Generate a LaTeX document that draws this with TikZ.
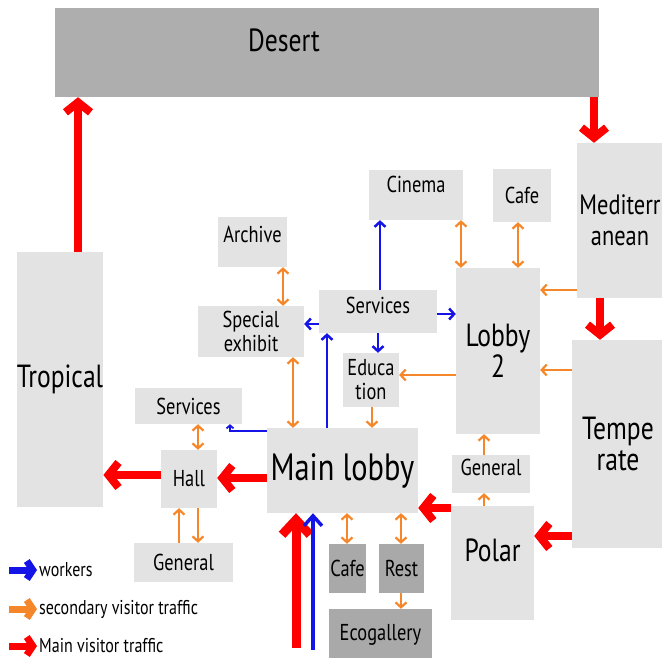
\documentclass[tikz,border=0pt]{standalone}
\usepackage{fontspec}
\setmainfont{PT Sans}[FakeStretch=0.8]
\usepackage{xcolor}
\definecolor{RoomGray}{HTML}{E3E3E3}
\definecolor{HotGray}{HTML}{AEAEAE}
\definecolor{AnnexGray}{HTML}{A9A9A9}
\definecolor{FlowRed}{HTML}{FF0000}
\definecolor{StaffBlue}{HTML}{1414E6}
\definecolor{SideOrange}{HTML}{F5872A}
\usepackage{tikz}
\usetikzlibrary{arrows.meta}

\begin{document}
\begin{tikzpicture}[x=1pt,y=-1pt,
room/.style={fill=RoomGray,inner sep=0pt,align=center,font=\fontsize{23}{24}\selectfont},
biome/.style={room,font=\fontsize{32}{31}\selectfont},
annex/.style={room,fill=AnnexGray},
mainflow/.style={draw=FlowRed,line width=8pt,-{Straight Barb[length=10pt,width=25pt]}},
staff/.style={draw=StaffBlue,line width=2.5pt,-{Straight Barb[length=5pt,width=11pt]}},
visit/.style={draw=SideOrange,line width=2.2pt,-{Straight Barb[length=5pt,width=11pt]}},
visit2/.style={visit,{Straight Barb[length=5pt,width=11pt]}-{Straight Barb[length=5pt,width=11pt]}},
key/.style={font=\fontsize{20}{20}\selectfont,anchor=west,inner sep=2pt},
keymark/.style={line width=7pt,-{Straight Barb[length=6pt,width=18pt]}}]
\useasboundingbox (0,0) rectangle (662,658);
% biomes
\node[biome,fill=HotGray,minimum width=544pt,minimum height=89pt,
  label={[font=\fontsize{32}{31}\selectfont,xshift=-43pt,yshift=12pt]center:Desert}] (desert) at (327,52.5) {};
\node[biome,minimum width=86pt,minimum height=255pt] (tropical) at (60,379.5) {Tropical};
\node[biome,minimum width=86pt,minimum height=155pt,font=\fontsize{28}{31}\selectfont] (med) at (620,220.5) {Mediterr\\anean};
\node[biome,minimum width=92pt,minimum height=208pt] (temperate) at (618,444) {Tempe\\rate};
\node[biome,minimum width=84pt,minimum height=166pt] (lobbyii) at (498,351) {Lobby\\2};
\node[biome,minimum width=83pt,minimum height=114pt,text depth=26pt] (polar) at (492.5,563) {Polar};
\node[room,minimum width=151pt,minimum height=85pt,font=\fontsize{38}{38}\selectfont] (mainlobby) at (342.5,470.5) {Main lobby};
% rooms
\node[room,minimum width=94pt,minimum height=50pt,text depth=22pt] (cinema) at (416,195) {Cinema};
\node[room,minimum width=58pt,minimum height=53pt] (cafetop) at (522,195.5) {Cafe};
\node[room,minimum width=69pt,minimum height=50pt,text depth=16pt] (archive) at (252.5,242) {Archive};
\node[room,minimum width=118pt,minimum height=43pt,text depth=13pt] (svcmid) at (378,311.5) {Services};
\node[room,minimum width=106pt,minimum height=51pt] (special) at (251,331.5) {Special\\exhibit};
\node[room,minimum width=56pt,minimum height=54pt] (education) at (371,380) {Educa\\tion};
\node[room,minimum width=107pt,minimum height=36pt] (svcleft) at (188.5,406) {Services};
\node[room,minimum width=56pt,minimum height=58pt] (hall) at (189,479) {Hall};
\node[room,minimum width=99pt,minimum height=39pt] (generall) at (183.5,562.5) {General};
\node[room,minimum width=78pt,minimum height=38pt,text depth=14pt] (generalr) at (491,474) {General};
\node[annex,minimum width=37pt,minimum height=49pt] (cafebot) at (347.5,568.5) {Cafe};
\node[annex,minimum width=45pt,minimum height=49pt] (rest) at (401.5,568.5) {Rest};
\node[annex,minimum width=103pt,minimum height=51pt] (eco) at (380.5,634.5) {Ecogallery};
% main visitor traffic
\coordinate (redin) at (296,648);
\draw[mainflow] (tropical.north -| 78,0) -- (desert.south -| 78,0);
\draw[mainflow] (desert.south -| 594,0) -- (med.north -| 594,0);
\draw[mainflow] (med.south -| 600,0) -- (temperate.north -| 600,0);
\draw[mainflow] (temperate.west |- 0,536) -- (polar.east |- 0,536);
\draw[mainflow] (polar.west |- 0,508) -- (mainlobby.east |- 0,508);
\draw[mainflow] (mainlobby.west |- 0,478) -- (hall.east |- 0,478);
\draw[mainflow] (hall.west |- 0,475) -- (tropical.east |- 0,475);
\draw[mainflow,line width=9pt,-{Straight Barb[length=15pt,width=28pt]}] (redin) -- (mainlobby.south -| 296,0);
% workers
\coordinate (bluein) at (313,650);
\draw[staff] (svcmid.north -| 380,0) -- (cinema.south -| 380,0);
\draw[staff] (svcmid.east |- 0,314) -- (lobbyii.west |- 0,314);
\draw[staff] (svcmid.west |- 0,324) -- (special.east |- 0,324);
\draw[staff] (svcmid.south -| 378,0) -- (education.north -| 378,0);
\draw[staff] (mainlobby.north -| 327,0) -- (svcmid.south -| 327,0);
\draw[staff,line width=1.8pt,-{Straight Barb[length=3pt,width=7pt]}] (mainlobby.west |- 0,431) -| (svcleft.south -| 230,0);
\draw[staff,line width=3.5pt,-{Straight Barb[length=10pt,width=18pt]}] (bluein) -- (mainlobby.south -| 313,0);
% secondary visitor traffic
\draw[visit2] (archive.south -| 283,0) -- (special.north -| 283,0);
\draw[visit2] (special.south -| 293,0) -- (mainlobby.north -| 293,0);
\draw[visit] (lobbyii.west |- 0,375) -- (education.east |- 0,375);
\draw[visit] (education.south -| 372,0) -- (mainlobby.north -| 372,0);
\draw[visit2] (cinema.south -| 461,0) -- (lobbyii.north -| 461,0);
\draw[visit2] (cafetop.south -| 518,0) -- (lobbyii.north -| 518,0);
\draw[visit] (med.west |- 0,290) -- (lobbyii.east |- 0,290);
\draw[visit] (temperate.west |- 0,370) -- (lobbyii.east |- 0,370);
\draw[visit] (generalr.north -| 484,0) -- (lobbyii.south -| 484,0);
\draw[visit] (polar.north -| 484,0) -- (generalr.south -| 484,0);
\draw[visit2] (svcleft.south -| 198,0) -- (hall.north -| 198,0);
\draw[visit] (generall.north -| 179,0) -- (hall.south -| 179,0);
\draw[visit] (hall.south -| 198,0) -- (generall.north -| 198,0);
\draw[visit2] (mainlobby.south -| 347,0) -- (cafebot.north -| 347,0);
\draw[visit2] (mainlobby.south -| 401,0) -- (rest.north -| 401,0);
\draw[visit] (rest.south -| 401,0) -- (eco.north -| 401,0);
% legend
\coordinate (kwork) at (9,570);
\coordinate (kvisit) at (9,609);
\coordinate (kmain) at (9,646);
\node[key] (keywork) at (37,570) {workers};
\node[key] (keyvisit) at (37,609) {secondary visitor traffic};
\node[key] (keymain) at (37,646) {Main visitor traffic};
\draw[keymark,draw=StaffBlue] (kwork) -- (keywork.west);
\draw[keymark,draw=SideOrange] (kvisit) -- (keyvisit.west);
\draw[keymark,draw=FlowRed] (kmain) -- (keymain.west);
\end{tikzpicture}
\end{document}
